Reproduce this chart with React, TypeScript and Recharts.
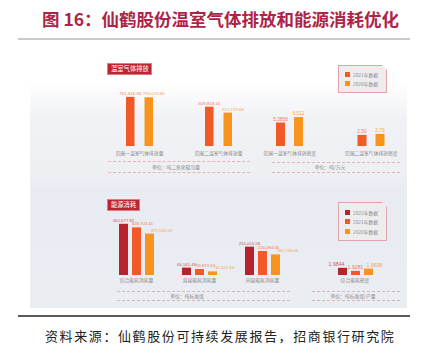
import { Bar, BarChart, LabelList, XAxis, YAxis } from "recharts";

// 温室气体排放
const ghgCategories = ["范围一温室气体排放量", "范围二温室气体排放量"];
const ghg2021 = [761316.36, 609818.16];
const ghg2020 = [755015.86, 517729.68];

const densityCategories = ["范围一温室气体排放密度", "范围二温室气体排放密度"];
const density2021 = [5.2858, 2.5];
const density2020 = [6.512, 2.73];
const density2021Labels = ["5.2858", "2.50"];
const density2020Labels = ["6.512", "2.73"];

// 能源消耗
const energyCategories = ["综合能耗消耗量", "直接能耗消耗量", "间接能耗消耗量"];
const energy2022 = [460677.82, 66541.48, 255050.58];
const energy2021 = [428704.41, 53870.16, 216084.06];
const energy2020 = [372535.59, 32321.64, 185736.06];

const intensityCategories = ["综合能耗密度"];
const intensity2022 = [1.9844];
const intensity2021 = [1.9281];
const intensity2020 = [1.9698];
const intensity2022Labels = ["1.9844"];
const intensity2021Labels = ["1.9281"];
const intensity2020Labels = ["1.9698"];

const legendGhg = ["2021年数据", "2020年数据"];
const legendEnergy = ["2022年数据", "2021年数据", "2020年数据"];

const cjk = '"Noto Sans CJK SC", "Noto Sans", sans-serif';
const darkRed = "#B8222F";
const redOrange = "#F15A27";
const orange = "#F7941E";
const labelColors: Record<string, string> = {
  [darkRed]: "#CF5866",
  [redOrange]: "#F27A52",
  [orange]: "#F5A64A",
};

const money = (v: number) =>
  v.toLocaleString("en-US", { minimumFractionDigits: 2, maximumFractionDigits: 2 });

type Series = { key: string; color: string; labels?: string[]; dx?: number };

type MiniBarsProps = {
  left: number;
  top: number;
  width: number;
  plotHeight: number;
  rows: Record<string, string | number>[];
  series: Series[];
  domain: [number, number];
  barSize: number;
  barGap: number;
  tickGap: number;
  labelSize: number;
};

// room around the plot so value labels are not clipped
const headroom = 12;
const sidePad = 20;

function MiniBars({
  left,
  top,
  width,
  plotHeight,
  rows,
  series,
  domain,
  barSize,
  barGap,
  tickGap,
  labelSize,
}: MiniBarsProps) {
  return (
    <div style={{ position: "absolute", left: left - sidePad, top: top - headroom }}>
      <BarChart
        width={width + sidePad * 2}
        height={plotHeight + 14 + headroom}
        data={rows}
        margin={{ top: headroom, right: sidePad, bottom: 0, left: sidePad }}
        barSize={barSize}
        barGap={barGap}
      >
        <XAxis
          dataKey="name"
          height={14}
          interval={0}
          axisLine={false}
          tickLine={false}
          tickSize={tickGap}
          tickMargin={2}
          tick={{ fontSize: 4.8, fill: "#8a8a8a", fontFamily: cjk }}
        />
        <YAxis hide domain={domain} allowDataOverflow />
        {series.map((s) => (
          <Bar key={s.key} dataKey={s.key} fill={s.color} isAnimationActive={false}>
            <LabelList
              dataKey={s.key}
              content={(p: any) => {
                const x = Number(p.x) + Number(p.width) / 2 + (s.dx ?? 0);
                const y = Number(p.y) - 2;
                const text = s.labels ? s.labels[p.index] : money(Number(p.value));
                return (
                  <text
                    x={x}
                    y={y}
                    textAnchor="middle"
                    fontSize={labelSize}
                    fill={labelColors[s.color]}
                    fontFamily="Liberation Sans, sans-serif"
                  >
                    {text}
                  </text>
                );
              }}
            />
          </Bar>
        ))}
      </BarChart>
    </div>
  );
}

function Dashed({ left, top, width }: { left: number; top: number; width: number }) {
  return (
    <div
      style={{
        position: "absolute",
        left,
        top,
        width,
        borderTop: "1px dashed #E3B3B8",
      }}
    />
  );
}

function Unit({ cx, cy, text }: { cx: number; cy: number; text: string }) {
  return (
    <div
      style={{
        position: "absolute",
        left: cx - 60,
        top: cy - 4,
        width: 120,
        textAlign: "center",
        fontSize: 4.8,
        lineHeight: "8px",
        color: "#8a8a8a",
        fontFamily: cjk,
      }}
    >
      {text}
    </div>
  );
}

function Tag({ left, top, width, text }: { left: number; top: number; width: number; text: string }) {
  return (
    <div
      style={{
        position: "absolute",
        left,
        top,
        width,
        height: 12,
        background: "#BF2330",
        border: "1px solid #E07A84",
        boxSizing: "border-box",
        color: "#fff",
        fontSize: 6.3,
        lineHeight: "10px",
        paddingLeft: 3,
        fontFamily: cjk,
      }}
    >
      {text}
    </div>
  );
}

function LegendBox({
  left,
  top,
  height,
  names,
  colors,
}: {
  left: number;
  top: number;
  height: number;
  names: string[];
  colors: string[];
}) {
  const step = 9.5;
  return (
    <div
      style={{
        position: "absolute",
        left,
        top,
        width: 49,
        height,
        background: "#EDEDEE",
        border: "1px solid #E2A3AA",
        boxSizing: "border-box",
        clipPath: "polygon(0 0, 44px 0, 49px 5px, 49px 100%, 0 100%)",
      }}
    >
      {names.map((n, i) => (
        <div
          key={n}
          style={{
            position: "absolute",
            left: 6,
            top: (height - names.length * step) / 2 + i * step - 1,
            height: step,
            display: "flex",
            alignItems: "center",
            fontSize: 4.8,
            color: "#8a8a8a",
            fontFamily: cjk,
          }}
        >
          <span style={{ width: 5, height: 5, background: colors[i], marginRight: 3 }} />
          {n}
        </div>
      ))}
    </div>
  );
}

export default function App() {
  const ghgRows = ghgCategories.map((name, i) => ({ name, y2021: ghg2021[i], y2020: ghg2020[i] }));
  const densityRows = densityCategories.map((name, i) => ({
    name,
    y2021: density2021[i],
    y2020: density2020[i],
  }));
  const energyRows = energyCategories.map((name, i) => ({
    name,
    y2022: energy2022[i],
    y2021: energy2021[i],
    y2020: energy2020[i],
  }));
  const intensityRows = intensityCategories.map((name, i) => ({
    name,
    y2022: intensity2022[i],
    y2021: intensity2021[i],
    y2020: intensity2020[i],
  }));

  return (
    <div style={{ position: "relative", width: 429, height: 357, background: "#fff", overflow: "hidden" }}>
      <style>{"body{margin:0}"}</style>

      <div
        style={{
          position: "absolute",
          left: 42,
          top: 8,
          fontSize: 17.5,
          lineHeight: "22px",
          fontWeight: 700,
          color: "#AE2446",
          fontFamily: cjk,
          whiteSpace: "nowrap",
        }}
      >
        图 16：仙鹤股份温室气体排放和能源消耗优化
      </div>
      <div style={{ position: "absolute", left: 18, top: 38, width: 392, height: 1.5, background: "#C9C9C9" }} />

      <div
        style={{
          position: "absolute",
          left: 30,
          top: 45,
          width: 377,
          height: 263,
          background:
            "linear-gradient(to bottom, #ffffff 0px, #ffffff 35px, #F1F2F6 75px, #EDEFF3 130px, #E8EBF1 145px, #EAEDF2 263px)",
        }}
      />

      <Tag left={107} top={63} width={45} text="温室气体排放" />
      <Tag left={107} top={199} width={33} text="能源消耗" />

      <MiniBars
        left={100}
        top={86}
        width={158}
        plotHeight={60}
        rows={ghgRows}
        series={[
          { key: "y2021", color: redOrange },
          { key: "y2020", color: orange, dx: 5 },
        ]}
        domain={[0, 930000]}
        barSize={8.5}
        barGap={10}
        tickGap={4}
        labelSize={4.4}
      />
      <MiniBars
        left={249}
        top={106}
        width={163}
        plotHeight={40}
        rows={densityRows}
        series={[
          { key: "y2021", color: redOrange, labels: density2021Labels },
          { key: "y2020", color: orange, labels: density2020Labels },
        ]}
        domain={[0, 9]}
        barSize={9}
        barGap={9}
        tickGap={4}
        labelSize={4.8}
      />
      <MiniBars
        left={105}
        top={215}
        width={189}
        plotHeight={60}
        rows={energyRows}
        series={[
          { key: "y2022", color: darkRed },
          { key: "y2021", color: redOrange, dx: 6 },
          { key: "y2020", color: orange, dx: 12 },
        ]}
        domain={[0, 540000]}
        barSize={9}
        barGap={4}
        tickGap={2}
        labelSize={4.3}
      />
      <MiniBars
        left={325}
        top={267}
        width={60}
        plotHeight={8}
        rows={intensityRows}
        series={[
          { key: "y2022", color: darkRed, labels: intensity2022Labels, dx: -6 },
          { key: "y2021", color: redOrange, labels: intensity2021Labels },
          { key: "y2020", color: orange, labels: intensity2020Labels, dx: 6 },
        ]}
        domain={[1.85, 2.0]}
        barSize={9}
        barGap={4}
        tickGap={2}
        labelSize={5.2}
      />

      <Dashed left={108} top={161} width={142} />
      <Dashed left={108} top={172} width={142} />
      <Unit cx={176} cy={167} text="单位：吨二氧化碳当量" />
      <Dashed left={272} top={162} width={128} />
      <Dashed left={272} top={172} width={128} />
      <Unit cx={330} cy={167} text="单位：吨/万元" />

      <Dashed left={117} top={291} width={173} />
      <Dashed left={117} top={300} width={173} />
      <Unit cx={187} cy={295.5} text="单位：吨标准煤" />
      <Dashed left={312} top={291} width={88} />
      <Dashed left={312} top={300} width={88} />
      <Unit cx={353} cy={295.5} text="单位：吨标准煤/产量" />

      <LegendBox left={338} top={65} height={28} names={legendGhg} colors={[redOrange, orange]} />
      <LegendBox
        left={338}
        top={202}
        height={39}
        names={legendEnergy}
        colors={[darkRed, redOrange, orange]}
      />

      <div style={{ position: "absolute", left: 18, top: 315, width: 392, height: 2, background: "#5a5a5a" }} />
      <div
        style={{
          position: "absolute",
          left: 45,
          top: 327,
          fontSize: 13,
          lineHeight: "18px",
          letterSpacing: 1.6,
          color: "#222",
          fontFamily: cjk,
          whiteSpace: "nowrap",
        }}
      >
        资料来源：仙鹤股份可持续发展报告，招商银行研究院
      </div>
    </div>
  );
}
